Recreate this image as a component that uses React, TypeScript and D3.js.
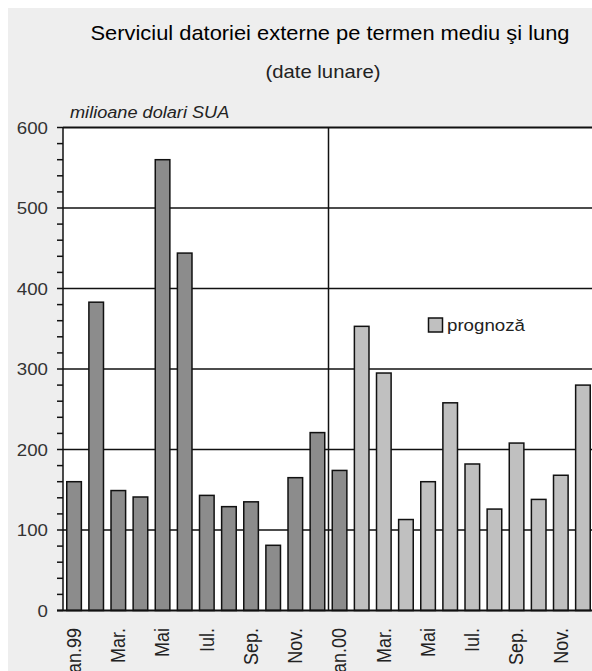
import React from "react";
import * as d3 from "d3";

const months = [
  "Ian.99", "Feb.99", "Mar.99", "Apr.99", "Mai 99", "Iun.99", "Iul.99", "Aug.99", "Sep.99", "Oct.99", "Nov.99", "Dec.99",
  "Ian.00", "Feb.00", "Mar.00", "Apr.00", "Mai 00", "Iun.00", "Iul.00", "Aug.00", "Sep.00", "Oct.00", "Nov.00", "Dec.00",
];
const tickLabels = ["Ian.99", "", "Mar.", "", "Mai", "", "Iul.", "", "Sep.", "", "Nov.", "", "Ian.00", "", "Mar.", "", "Mai", "", "Iul.", "", "Sep.", "", "Nov.", ""];
// realised values (Jan 99 – Jan 00)
const actual = [160, 383, 149, 141, 560, 444, 143, 129, 135, 81, 165, 221, 174];
// forecast values (Feb 00 – Dec 00)
const forecast = [353, 295, 113, 160, 258, 182, 126, 208, 138, 168, 280];
const yTicks = [0, 100, 200, 300, 400, 500, 600];

const title = "Serviciul datoriei externe pe termen mediu şi lung";
const subtitle = "(date lunare)";
const unitLabel = "milioane dolari SUA";
const legendLabel = "prognoză";

const W = 592;
const H = 671;
const SX = 1.1;
const FONT = "'Liberation Sans', Arial, Helvetica, sans-serif";

export default function App() {
  React.useEffect(() => {
    document.documentElement.style.overflow = "hidden";
  }, []);
  const left = 63;
  const right = 63 + 24 * 22.125;
  const top = 127.5;
  const bottom = 610.5;

  const x = d3.scaleBand<string>().domain(months).range([left, right]).paddingInner(0.34).paddingOuter(0.17);
  const y = d3.scaleLinear().domain([0, 600]).range([bottom, top]);
  const minor = d3.range(0, 601, 20);

  const bars = [
    ...actual.map((v, i) => ({ key: months[i], v, f: false })),
    ...forecast.map((v, i) => ({ key: months[actual.length + i], v, f: true })),
  ];
  const divider = x(months[12])! - (x.step() * x.paddingInner()) / 2;

  return (
    <svg width={W} height={H} style={{ position: "absolute", left: 0, top: 0 }} fontFamily={FONT}>
      <rect x={8} y={8} width={W - 8} height={H - 8} fill="#eeeeee" />
      <rect x={left} y={top} width={W - left} height={bottom - top} fill="#ffffff" />
      <text transform={`translate(330,40) scale(1.094,1)`} textAnchor="middle" fontSize={20} fill="#000">{title}</text>
      <text transform={`translate(323,78) scale(1.097,1)`} textAnchor="middle" fontSize={18.5} fill="#222">{subtitle}</text>
      <text transform={`translate(70,118) scale(${SX},1)`} fontSize={16.5} fontStyle="italic" fill="#222">{unitLabel}</text>

      {yTicks.filter((t) => t > 0).map((t) => (
        <line key={"g" + t} x1={left} x2={W} y1={y(t)} y2={y(t)} stroke="#111" strokeWidth={t === 600 ? 2 : 1.5} />
      ))}
      <line x1={divider} x2={divider} y1={top} y2={bottom} stroke="#111" strokeWidth={1.5} />

      {bars.map((b) => (
        <rect key={b.key} x={x(b.key)} y={y(b.v)} width={x.bandwidth()} height={y(0) - y(b.v)}
          fill={b.f ? "#c0c0c0" : "#8c8c8c"} stroke="#111" strokeWidth={1.5} />
      ))}

      <line x1={left} x2={left} y1={top} y2={bottom} stroke="#111" strokeWidth={1.5} />
      {minor.map((t) => (
        <line key={"m" + t} x1={left - 6} x2={left} y1={y(t)} y2={y(t)} stroke="#111" strokeWidth={1.5} />
      ))}
      <line x1={left - 6} x2={W} y1={bottom} y2={bottom} stroke="#111" strokeWidth={2} />
      {yTicks.map((t) => (
        <text key={"t" + t} transform={`translate(48,${y(t) + 6}) scale(${SX},1)`} textAnchor="end" fontSize={17} fill="#333">{t}</text>
      ))}

      {months.map((m, i) => tickLabels[i] ? (
        <text key={"l" + m} transform={`translate(${x(m)! + x.bandwidth() / 2},628) scale(${SX},1) rotate(-90)`}
          textAnchor="end" dy="0.35em" fontSize={18} fill="#222">{tickLabels[i]}</text>
      ) : null)}

      <rect x={428.5} y={318} width={14} height={14} fill="#c0c0c0" stroke="#111" strokeWidth={1.5} />
      <text transform={`translate(447,331) scale(${SX},1)`} fontSize={17} fill="#222">{legendLabel}</text>
    </svg>
  );
}
